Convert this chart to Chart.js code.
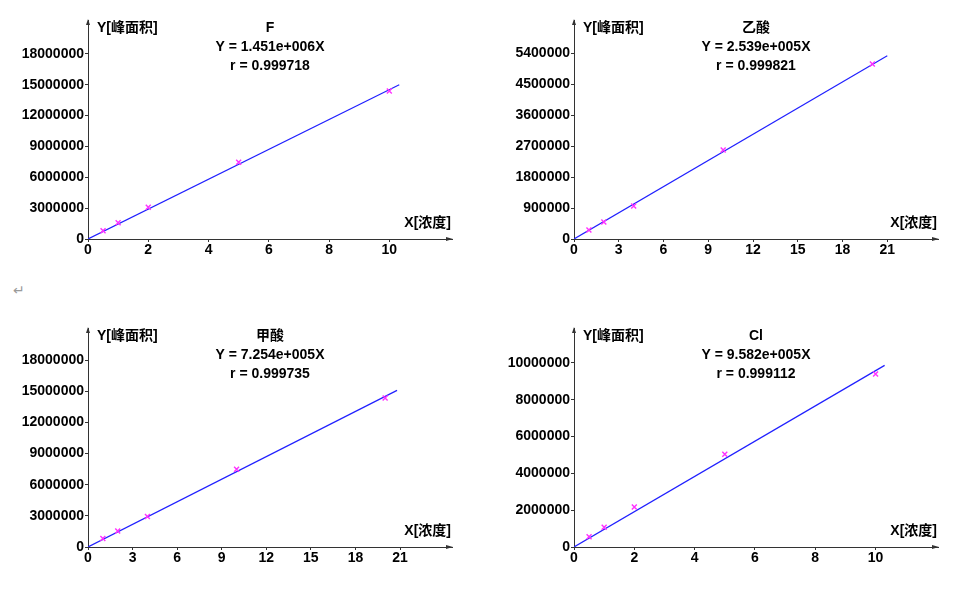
<!DOCTYPE html>
<html>
<head>
<meta charset="utf-8">
<script src="https://cdn.jsdelivr.net/npm/chart.js@4.4.1/dist/chart.umd.min.js"></script>
<style>
    body { margin: 0; background: #fff; width: 968px; height: 589px; position: relative; overflow: hidden; }
    .box { position: absolute; width: 482px; height: 281px; }
    #mark { position: absolute; left: 13px; top: 282px; color: #9a9a9a; font: 14px "DejaVu Sans"; }
</style>
</head>
<body>
<div class="box" style="left:0;top:0"><canvas id="c0" width="482" height="281"></canvas></div>
<div class="box" style="left:486px;top:0"><canvas id="c1" width="482" height="281"></canvas></div>
<div class="box" style="left:0;top:308px"><canvas id="c2" width="482" height="281"></canvas></div>
<div class="box" style="left:486px;top:308px"><canvas id="c3" width="482" height="281"></canvas></div>
<div id="mark">↵</div>
<script>
// panel names and fit results
var names = ['F', '乙酸', '甲酸', 'Cl'];
var slopes = ['1.451e+006', '2.539e+005', '7.254e+005', '9.582e+005'];
var rValues = ['0.999718', '0.999821', '0.999735', '0.999112'];

// measured points (concentration / peak area)
var concF = [0.5, 1, 2, 5, 10];
var areaF = [800000, 1580000, 3080000, 7470000, 14400000];
var concAcetic = [1, 2, 4, 10, 20];
var areaAcetic = [262000, 497000, 960000, 2590000, 5090000];
var concFormic = [1, 2, 4, 10, 20];
var areaFormic = [810000, 1540000, 2930000, 7500000, 14350000];
var concCl = [0.5, 1, 2, 5, 10];
var areaCl = [560000, 1070000, 2170000, 5040000, 9400000];

// fit line end points (line starts at 0,0)
var lineEndX = [10.33, 21, 20.8, 10.3];
var lineEndY = [15000000, 5330000, 15090000, 9870000];

// tick labels
var xTicks = [
    [0, 2, 4, 6, 8, 10],
    [0, 3, 6, 9, 12, 15, 18, 21],
    [0, 3, 6, 9, 12, 15, 18, 21],
    [0, 2, 4, 6, 8, 10]
];
var yTicks = [
    [0, 3000000, 6000000, 9000000, 12000000, 15000000, 18000000],
    [0, 900000, 1800000, 2700000, 3600000, 4500000, 5400000],
    [0, 3000000, 6000000, 9000000, 12000000, 15000000, 18000000],
    [0, 2000000, 4000000, 6000000, 8000000, 10000000]
];
var xMax = [12.08, 24.4, 24.5, 12.07];
var yMax = [21300000, 6370000, 21100000, 11900000];

var concs = [concF, concAcetic, concFormic, concCl];
var areas = [areaF, areaAcetic, areaFormic, areaCl];

var FONT = '"Liberation Sans", "Noto Sans CJK SC", sans-serif';
Chart.defaults.font.family = FONT;
Chart.defaults.color = '#000';

// title text, axis names and arrow heads
var panelText = {
    id: 'panelText',
    afterDraw: function (chart) {
        var ctx = chart.ctx;
        var a = chart.chartArea;
        var i = chart.options.plugins.panelText.index;
        var cx = (a.left + a.right) / 2;
        ctx.save();
        ctx.fillStyle = '#000';
        ctx.font = 'bold 14px ' + FONT;
        ctx.textBaseline = 'middle';
        ctx.textAlign = 'center';
        ctx.fillText(names[i], cx, a.top + 8);
        ctx.fillText('Y = ' + slopes[i] + 'X', cx, a.top + 27);
        ctx.fillText('r = ' + rValues[i], cx, a.top + 46);
        ctx.textAlign = 'left';
        ctx.fillText('Y[峰面积]', a.left + 9, a.top + 8);
        ctx.textAlign = 'right';
        ctx.fillText('X[浓度]', a.right - 1, a.bottom - 16);

        ctx.fillStyle = '#333';
        ctx.beginPath();
        ctx.moveTo(a.left, a.top - 1);
        ctx.lineTo(a.left - 2, a.top + 5);
        ctx.lineTo(a.left + 2, a.top + 5);
        ctx.fill();
        ctx.beginPath();
        ctx.moveTo(a.right + 1, a.bottom);
        ctx.lineTo(a.right - 6, a.bottom - 2);
        ctx.lineTo(a.right - 6, a.bottom + 2);
        ctx.fill();
        ctx.restore();
    }
};

function makeChart(i) {
    var pts = concs[i].map(function (x, k) { return { x: x, y: areas[i][k] }; });
    var fit = [{ x: 0, y: 0 }, { x: lineEndX[i], y: lineEndY[i] }];
    new Chart(document.getElementById('c' + i), {
        type: 'scatter',
        data: {
            datasets: [
                {
                    data: fit,
                    showLine: true,
                    borderColor: '#2020ff',
                    borderWidth: 1.2,
                    pointRadius: 0,
                    order: 2
                },
                {
                    data: pts,
                    pointStyle: 'crossRot',
                    pointRadius: 3.5,
                    borderColor: '#ff30ff',
                    borderWidth: 1.4,
                    order: 1
                }
            ]
        },
        options: {
            responsive: false,
            animation: false,
            layout: { padding: { left: 0, top: 20, right: 30, bottom: 0 } },
            plugins: {
                legend: { display: false },
                tooltip: { enabled: false },
                panelText: { index: i }
            },
            scales: {
                x: {
                    type: 'linear',
                    min: 0,
                    max: xMax[i],
                    afterBuildTicks: function (s) {
                        s.ticks = xTicks[i].map(function (v) { return { value: v }; });
                    },
                    afterFit: function (s) { s.height = 42; },
                    ticks: {
                        autoSkip: false,
                        maxRotation: 0,
                        padding: 0,
                        font: { size: 14, weight: 'bold' },
                        callback: function (v) { return String(v); }
                    },
                    grid: { drawOnChartArea: false, tickLength: 3, color: '#333' },
                    border: { color: '#333', width: 1 }
                },
                y: {
                    type: 'linear',
                    min: 0,
                    max: yMax[i],
                    afterBuildTicks: function (s) {
                        s.ticks = yTicks[i].map(function (v) { return { value: v }; });
                    },
                    afterFit: function (s) { s.width = 88; },
                    ticks: {
                        autoSkip: false,
                        padding: 1,
                        font: { size: 14, weight: 'bold' },
                        callback: function (v) { return String(v); }
                    },
                    grid: { drawOnChartArea: false, tickLength: 3, color: '#333' },
                    border: { color: '#333', width: 1 }
                }
            }
        },
        plugins: [panelText]
    });
}

for (var i = 0; i < 4; i++) {
    makeChart(i);
}
</script>
</body>
</html>
